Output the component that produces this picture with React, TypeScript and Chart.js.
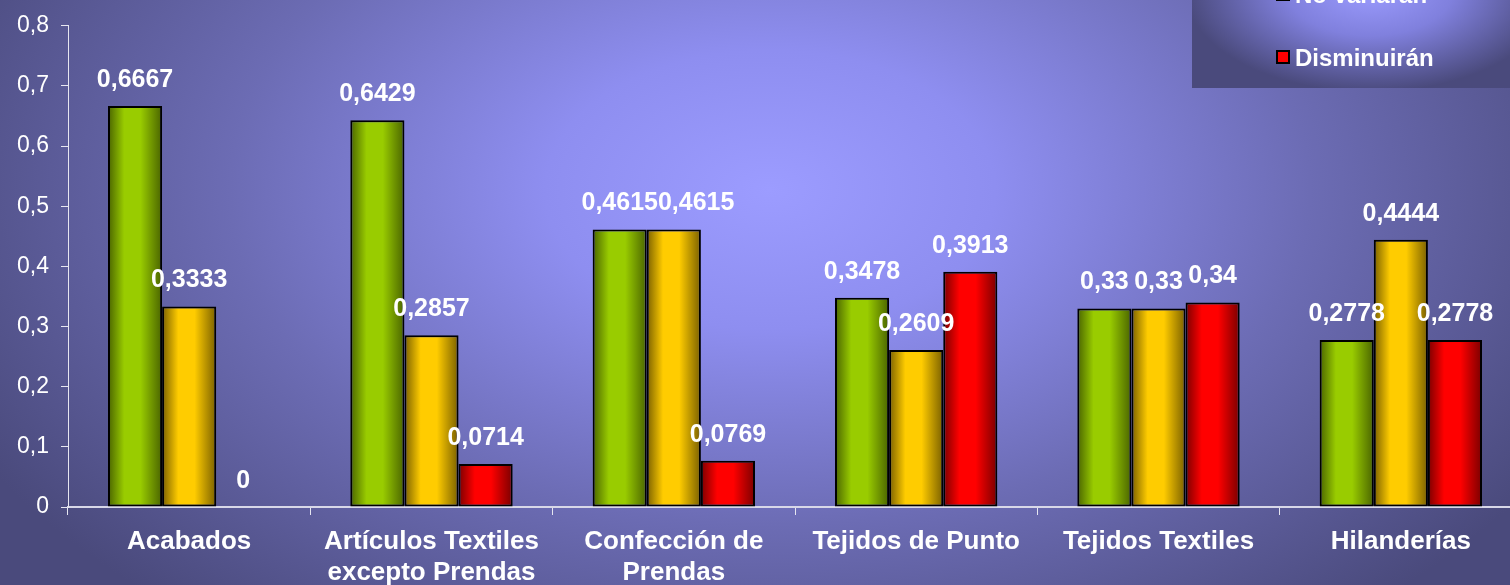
import React, { useEffect, useRef } from "react";
import { Chart, registerables } from "chart.js";

Chart.register(...registerables);

const categories: (string | string[])[] = [
  "Acabados",
  ["Artículos Textiles", "excepto Prendas"],
  ["Confección de", "Prendas"],
  "Tejidos de Punto",
  "Tejidos Textiles",
  "Hilanderías",
];

const seriesNames = ["Aumentarán", "No variarán", "Disminuirán"];
const aumentaran = [0.6667, 0.6429, 0.4615, 0.3478, 0.33, 0.2778];
const noVariaran = [0.3333, 0.2857, 0.4615, 0.2609, 0.33, 0.4444];
const disminuiran = [0, 0.0714, 0.0769, 0.3913, 0.34, 0.2778];

const yMin = 0;
const yMax = 0.8;
const yStep = 0.1;

const FONT = "'Liberation Sans', Arial, Helvetica, sans-serif";
const CAT_PCT = 0.67;

const palette = [
  { bright: "#99cc00", dark: "#4a6400" },
  { bright: "#ffcc00", dark: "#7a6000" },
  { bright: "#ff0000", dark: "#7a0000" },
];

const fmt = (v: number) => String(v).replace(".", ",");

function barGradient(ctx: any) {
  const chart = ctx.chart;
  const p = palette[ctx.datasetIndex] || palette[0];
  const xs = chart.scales && chart.scales.x;
  if (!xs || ctx.type !== "data" || !isFinite(xs.left)) return p.bright;
  const catW = (xs.right - xs.left) / categories.length;
  const barW = (catW * CAT_PCT) / 3;
  const cx = xs.getPixelForValue(ctx.dataIndex) + (ctx.datasetIndex - 1) * barW;
  const g = chart.ctx.createLinearGradient(cx - barW / 2, 0, cx + barW / 2, 0);
  g.addColorStop(0, p.dark);
  g.addColorStop(0.3, p.bright);
  g.addColorStop(0.6, p.bright);
  g.addColorStop(1, p.dark);
  return g;
}

const backgroundPlugin = {
  id: "bgGradient",
  beforeDraw(chart: any) {
    const { ctx, width, height } = chart;
    ctx.save();
    ctx.fillStyle = "#4a4a7c";
    ctx.fillRect(0, 0, width, height);
    ctx.translate(770, 190);
    ctx.scale(1, 0.62);
    const g = ctx.createRadialGradient(0, 0, 0, 0, 0, 900);
    g.addColorStop(0, "#9c9cff");
    g.addColorStop(0.25, "#8e8ef0");
    g.addColorStop(0.6, "#6c6cb4");
    g.addColorStop(1, "#4a4a7c");
    ctx.fillStyle = g;
    ctx.fillRect(-1200, -1200, 2400, 2400);
    ctx.restore();
  },
};

const dataLabelPlugin = {
  id: "valueLabels",
  afterDatasetsDraw(chart: any) {
    const { ctx } = chart;
    ctx.save();
    ctx.font = `bold 25px ${FONT}`;
    ctx.fillStyle = "#ffffff";
    ctx.textAlign = "left";
    ctx.textBaseline = "middle";
    const n = chart.data.labels.length;
    for (let i = 0; i < n; i++) {
      let prevRight = -Infinity;
      let prevY = NaN;
      chart.data.datasets.forEach((ds: any, di: number) => {
        const el = chart.getDatasetMeta(di).data[i];
        if (!el) return;
        const text = fmt(ds.data[i]);
        const w = ctx.measureText(text).width;
        const y = el.y - 26;
        let left = el.x - w / 2;
        if (Math.abs(y - prevY) < 22 && left < prevRight) left = prevRight;
        ctx.fillText(text, left, y);
        prevRight = left + w;
        prevY = y;
      });
    }
    ctx.restore();
  },
};

const legendPlugin = {
  id: "customLegend",
  afterDraw(chart: any) {
    const { ctx } = chart;
    const bx = 1192;
    const by = -100;
    const bw = 340;
    const bh = 188;
    ctx.save();
    ctx.beginPath();
    ctx.rect(bx, by, bw, bh);
    ctx.clip();
    ctx.fillStyle = "#4a4a7c";
    ctx.fillRect(bx, by, bw, bh);
    ctx.translate(1370, -10);
    ctx.scale(1, 0.55);
    const g = ctx.createRadialGradient(0, 0, 0, 0, 0, 185);
    g.addColorStop(0, "#9c9cff");
    g.addColorStop(0.45, "#8080dd");
    g.addColorStop(1, "#4a4a7c");
    ctx.fillStyle = g;
    ctx.fillRect(-400, -600, 800, 1200);
    ctx.restore();

    ctx.save();
    ctx.font = `bold 24px ${FONT}`;
    ctx.textBaseline = "alphabetic";
    ctx.textAlign = "left";
    const baselines = [-60, 3, 66];
    seriesNames.forEach((name, i) => {
      const b = baselines[i];
      ctx.fillStyle = palette[i].bright;
      ctx.strokeStyle = "#000000";
      ctx.lineWidth = 2;
      ctx.fillRect(1277, b - 15, 12, 12);
      ctx.strokeRect(1277, b - 15, 12, 12);
      ctx.fillStyle = "#ffffff";
      ctx.fillText(name, 1295, b);
    });
    ctx.restore();
  },
};

export default function App() {
  const canvasRef = useRef<HTMLCanvasElement | null>(null);

  useEffect(() => {
    const canvas = canvasRef.current;
    if (!canvas) return;
    const series = [aumentaran, noVariaran, disminuiran];
    const chart = new Chart(canvas, {
      type: "bar",
      data: {
        labels: categories,
        datasets: series.map((data, i) => ({
          label: seriesNames[i],
          data,
          backgroundColor: barGradient,
          borderColor: "#000000",
          borderWidth: (c: any) => (c.raw === 0 ? 0 : 2),
          borderSkipped: false,
          categoryPercentage: CAT_PCT,
          barPercentage: 1,
        })),
      },
      options: {
        responsive: false,
        animation: false,
        devicePixelRatio: 1,
        layout: { padding: { top: 20, left: 0, right: 0, bottom: 0 } },
        plugins: {
          legend: { display: false },
          tooltip: { enabled: false },
          title: { display: false },
        },
        scales: {
          x: {
            grid: {
              display: true,
              drawOnChartArea: false,
              drawTicks: true,
              tickLength: 8,
              color: "#e6e6f0",
              lineWidth: 1,
              offset: true,
            },
            border: { display: true, color: "#d8d8e8", width: 2 },
            ticks: {
              color: "#ffffff",
              font: { family: FONT, size: 26, weight: "bold", lineHeight: 1.2 },
              padding: 11,
              maxRotation: 0,
              minRotation: 0,
              autoSkip: false,
            },
            afterFit(scale: any) {
              scale.height = 78;
            },
          },
          y: {
            min: yMin,
            max: yMax,
            grid: {
              display: true,
              drawOnChartArea: false,
              drawTicks: true,
              tickLength: 7,
              color: "#e6e6f0",
            },
            border: { display: true, color: "#e6e6f0", width: 1 },
            ticks: {
              stepSize: yStep,
              color: "#ffffff",
              font: { family: FONT, size: 23 },
              padding: 12,
              callback: (v: any) => (Number(v) === 0 ? "0" : Number(v).toFixed(1).replace(".", ",")),
            },
            afterFit(scale: any) {
              scale.width = 68;
            },
          },
        },
      },
      plugins: [backgroundPlugin, dataLabelPlugin, legendPlugin],
    } as any);
    return () => chart.destroy();
  }, []);

  return (
    <div
      style={{
        position: "absolute",
        left: 0,
        top: 0,
        width: 1510,
        height: 585,
        overflow: "hidden",
      }}
    >
      <canvas ref={canvasRef} width={1522} height={585} style={{ width: 1522, height: 585, display: "block" }} />
    </div>
  );
}
